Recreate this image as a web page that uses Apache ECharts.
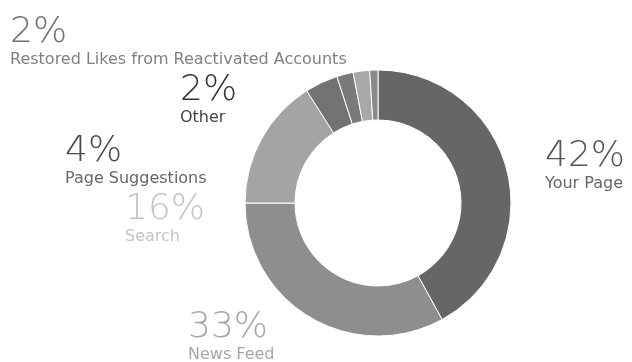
<!DOCTYPE html>
<html>
<head>
<meta charset="utf-8">
<script src="https://cdn.jsdelivr.net/npm/echarts@6/dist/echarts.min.js"></script>
<style>
  html, body { margin: 0; padding: 0; background: #fff; }
  #chart { width: 632px; height: 362px; }
</style>
</head>
<body>
<div id="chart"></div>
<script>
// Where page likes came from, as a share of the total
const sources = ['Your Page', 'News Feed', 'Search', 'Page Suggestions', 'Other',
                 'Restored Likes from Reactivated Accounts', 'Remainder'];
const shares = [42, 33, 16, 4, 2, 2, 1];
const labelled = [true, true, true, true, true, true, false];

// Slice fills and label colours (greyscale)
const fills = ['#666666', '#8e8e8e', '#a4a4a4', '#727272', '#7a7a7a', '#a8a8a8', '#8a8a8a'];
const inks = ['#555555', '#a6a6a6', '#c4c4c4', '#4a4a4a', '#333333', '#707070', '#888888'];
const nameInks = ['#666666', '#a6a6a6', '#c4c4c4', '#666666', '#444444', '#808080', '#888888'];

// Top-left corner of each label block
const labelSpots = [[545, 139], [188, 310], [125, 192], [65, 134], [180, 73], [10, 15], [0, 0]];

const chart = echarts.init(document.getElementById('chart'), null, { renderer: 'canvas' });

chart.setOption({
  animation: false,
  series: [{
    type: 'pie',
    center: [378, 203],
    radius: [83, 133],
    startAngle: 90,
    clockwise: true,
    avoidLabelOverlap: false,
    itemStyle: { borderColor: '#ffffff', borderWidth: 1 },
    labelLine: { show: false },
    label: {
      show: true,
      position: 'outside',
      formatter: p => '{p|' + p.value + '%}\n{n|' + p.name + '}',
      rich: {
        p: { fontFamily: 'DejaVu Sans', fontWeight: 200, fontSize: 36, lineHeight: 36 },
        n: { fontFamily: 'DejaVu Sans', fontSize: 16, lineHeight: 18 }
      }
    },
    labelLayout: params => {
      const spot = labelSpots[params.dataIndex];
      return { x: spot[0], y: spot[1], align: 'left', verticalAlign: 'top' };
    },
    data: sources.map((name, i) => ({
      name: name,
      value: shares[i],
      itemStyle: { color: fills[i] },
      label: {
        show: labelled[i],
        rich: { p: { color: inks[i] }, n: { color: nameInks[i] } }
      }
    }))
  }]
});
</script>
</body>
</html>
